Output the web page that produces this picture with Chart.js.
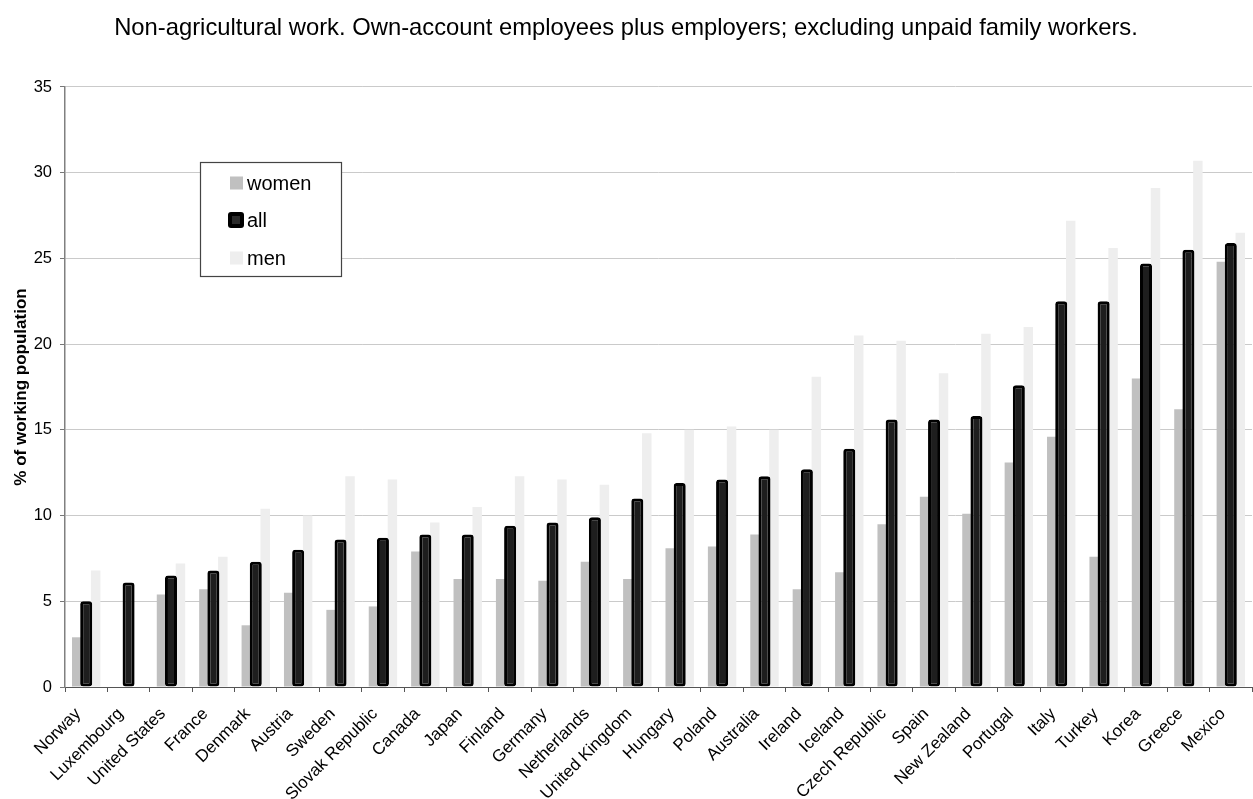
<!DOCTYPE html>
<html>
<head>
<meta charset="utf-8">
<title>Self-employment</title>
<script src="https://cdn.jsdelivr.net/npm/chart.js@4.4.1/dist/chart.umd.min.js"></script>
<style>
  html, body { margin: 0; padding: 0; background: #fff; }
  #wrap { width: 1253px; height: 799px; position: relative; }
</style>
</head>
<body>
<div id="wrap"><canvas id="chartSelfEmployed"></canvas></div>
<script>
// Self-employment rate by country, % of working population
const countries = [
  'Norway', 'Luxembourg', 'United States', 'France', 'Denmark', 'Austria', 'Sweden',
  'Slovak Republic', 'Canada', 'Japan', 'Finland', 'Germany', 'Netherlands',
  'United Kingdom', 'Hungary', 'Poland', 'Australia', 'Ireland', 'Iceland',
  'Czech Republic', 'Spain', 'New Zealand', 'Portugal', 'Italy', 'Turkey',
  'Korea', 'Greece', 'Mexico'
];
const women = [2.9, null, 5.4, 5.7, 3.6, 5.5, 4.5, 4.7, 7.9, 6.3, 6.3, 6.2, 7.3, 6.3,
  8.1, 8.2, 8.9, 5.7, 6.7, 9.5, 11.1, 10.1, 13.1, 14.6, 7.6, 18.0, 16.2, 24.8];
const all = [5.0, 6.1, 6.5, 6.8, 7.3, 8.0, 8.6, 8.7, 8.9, 8.9, 9.4, 9.6, 9.9, 11.0,
  11.9, 12.1, 12.3, 12.7, 13.9, 15.6, 15.6, 15.8, 17.6, 22.5, 22.5, 24.7, 25.5, 25.9];
const men = [6.8, null, 7.2, 7.6, 10.4, 10.0, 12.3, 12.1, 9.6, 10.5, 12.3, 12.1, 11.8, 14.8,
  15.0, 15.2, 15.0, 18.1, 20.5, 20.2, 18.3, 20.6, 21.0, 27.2, 25.6, 29.1, 30.7, 26.5];
const yTicks = [0, 5, 10, 15, 20, 25, 30, 35];

const FONT = 'Liberation Sans, Arial, Helvetica, sans-serif';

// the "all" bars are wider than their slot, so paint them after the others
const allOnTop = {
  id: 'allOnTop',
  beforeDatasetDraw(chart, args) {
    if (chart.data.datasets[args.index].label === 'all') return false;
  },
  afterDatasetsDraw(chart) {
    const idx = chart.data.datasets.findIndex(ds => ds.label === 'all');
    chart.getDatasetMeta(idx).controller.draw();
  }
};

// boxed legend inside the plot, top-left
const boxLegend = {
  id: 'boxLegend',
  afterDraw(chart) {
    const ctx = chart.ctx;
    const x = 200.5, y = 162.5, w = 141, h = 114;
    ctx.save();
    ctx.fillStyle = '#fff';
    ctx.fillRect(x, y, w, h);
    ctx.strokeStyle = '#444';
    ctx.lineWidth = 1.2;
    ctx.strokeRect(x, y, w, h);

    const rows = [183, 220, 258];
    ctx.font = '20px ' + FONT;
    ctx.textBaseline = 'middle';
    ctx.textAlign = 'left';
    chart.data.datasets.forEach((ds, i) => {
      const cy = rows[i];
      if (ds.label === 'all') {
        ctx.fillStyle = '#000';
        ctx.beginPath();
        ctx.roundRect(228, cy - 8, 16, 16, 3);
        ctx.fill();
        ctx.fillStyle = '#2a2a2a';
        ctx.fillRect(232, cy - 4, 8, 8);
      } else {
        ctx.fillStyle = ds.backgroundColor;
        ctx.fillRect(230, cy - 6.5, 13, 13);
      }
      ctx.fillStyle = '#000';
      ctx.fillText(ds.label, 247, cy + 1);
    });
    ctx.restore();
  }
};

const config = {
  type: 'bar',
  data: {
    labels: countries,
    datasets: [
      {
        label: 'women',
        data: women,
        backgroundColor: '#c0c0c0',
        borderWidth: 0
      },
      {
        label: 'all',
        data: all,
        backgroundColor: '#1e1e1e',
        borderColor: '#000',
        borderWidth: 3,
        borderRadius: 3,
        borderSkipped: false,
        barPercentage: 1.27
      },
      {
        label: 'men',
        data: men,
        backgroundColor: '#eeeeee',
        borderWidth: 0
      }
    ]
  },
  options: {
    responsive: true,
    maintainAspectRatio: false,
    animation: false,
    categoryPercentage: 0.67,
    barPercentage: 1.0,
    layout: { padding: { left: 0, right: 1, top: 0, bottom: 0 } },
    plugins: {
      legend: { display: false },
      tooltip: { enabled: false },
      title: {
        display: true,
        text: 'Non-agricultural work. Own-account employees plus employers; excluding unpaid family workers.',
        color: '#000',
        font: { family: FONT, size: 23.8, weight: 'normal', lineHeight: 1.2 },
        padding: { top: 14, bottom: 44.4 }
      }
    },
    scales: {
      x: {
        grid: {
          offset: true,
          drawOnChartArea: false,
          drawTicks: true,
          tickLength: 5,
          tickColor: '#555'
        },
        border: { color: '#555', width: 1 },
        ticks: {
          autoSkip: false,
          maxRotation: 45,
          minRotation: 45,
          padding: 12,
          labelOffset: -8,
          color: '#000',
          font: { family: FONT, size: 17 }
        },
        afterFit(scale) {
          scale.height = 112;
          // rotated labels must not pull the plot edges inward
          scale.paddingLeft = 0;
          scale.paddingRight = 0;
        }
      },
      y: {
        min: 0,
        max: 35,
        afterBuildTicks(scale) { scale.ticks = yTicks.map(v => ({ value: v })); },
        grid: {
          color: '#cacaca',
          tickLength: 5,
          tickColor: '#777'
        },
        border: { color: '#808080', width: 1.5 },
        ticks: {
          padding: 8,
          color: '#000',
          font: { family: FONT, size: 16.5 }
        },
        title: {
          display: true,
          text: '% of working population',
          color: '#000',
          font: { family: FONT, size: 17, weight: 'bold', lineHeight: 1.2 },
          padding: { top: 11, bottom: 0 }
        },
        afterFit(scale) { scale.width = 65; }
      }
    }
  },
  plugins: [allOnTop, boxLegend]
};

new Chart(document.getElementById('chartSelfEmployed').getContext('2d'), config);
</script>
</body>
</html>
